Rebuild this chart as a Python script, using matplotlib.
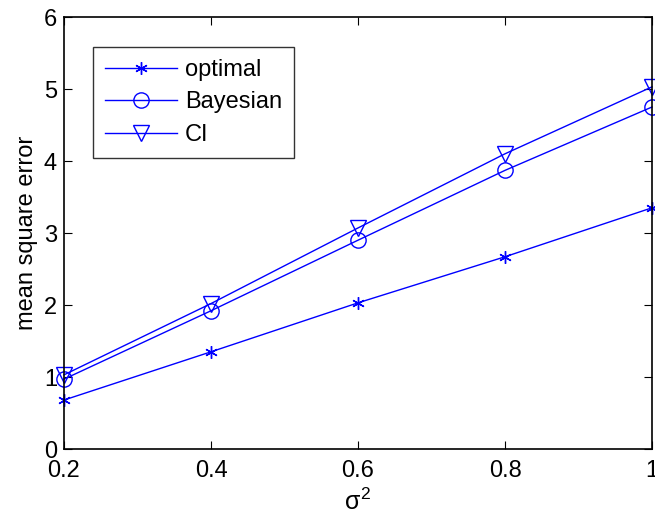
import matplotlib
matplotlib.use("Agg")
import matplotlib.pyplot as plt

plt.rcParams['font.family'] = ['Liberation Sans', 'DejaVu Sans']
plt.rcParams['mathtext.fontset'] = 'custom'
plt.rcParams['mathtext.rm'] = 'Liberation Sans'
plt.rcParams['mathtext.it'] = 'Liberation Sans'
plt.rcParams['mathtext.fallback'] = 'cm'

x = [0.2, 0.4, 0.6, 0.8, 1.0]
optimal = [0.68, 1.35, 2.03, 2.67, 3.35]
bayesian = [0.97, 1.92, 2.90, 3.87, 4.75]
ci = [1.03, 2.02, 3.07, 4.10, 5.03]
xticks = [0.2, 0.4, 0.6, 0.8, 1]
xticklabels = ['0.2', '0.4', '0.6', '0.8', '1']
yticks = [0, 1, 2, 3, 4, 5, 6]

fig = plt.figure(figsize=(6.55, 5.15), dpi=100)
ax = fig.add_axes([64/655, 1 - 449/515, (652-64)/655, (449-17)/515])

c = '#0000ff'
ax.plot(x, optimal, color=c, lw=1, marker=(6, 2, 0), ms=9, mew=1, label='optimal', clip_on=False)
ax.plot(x, bayesian, color=c, lw=1, marker='o', ms=11, mfc='none', mew=1, label='Bayesian', clip_on=False)
ax.plot(x, ci, color=c, lw=1, marker='v', ms=12, mfc='none', mew=1, label='CI', clip_on=False)

ax.set_xlim(0.2, 1)
ax.set_ylim(0, 6)
ax.set_xticks(xticks)
ax.set_xticklabels(xticklabels)
ax.set_yticks(yticks)
ax.tick_params(direction='in', top=True, right=True, labelsize=17, length=6, width=0.8)
ax.tick_params(axis='x', pad=8)
ax.tick_params(axis='y', pad=5)
for s in ax.spines.values():
    s.set_linewidth(1.2)
ax.set_xlabel(r'$\sigma^2$', fontsize=18, labelpad=5)
ax.set_ylabel('mean square error', fontsize=17, labelpad=4)

leg = ax.legend(loc='upper left', bbox_to_anchor=(29/588, 1 - 30/432), fontsize=17,
                frameon=True, fancybox=False, edgecolor='black', handlelength=3.05,
                borderpad=0.5, labelspacing=0.45, handletextpad=0.35, borderaxespad=0)
leg.get_frame().set_linewidth(1)

fig.savefig('out.png', dpi=100)
